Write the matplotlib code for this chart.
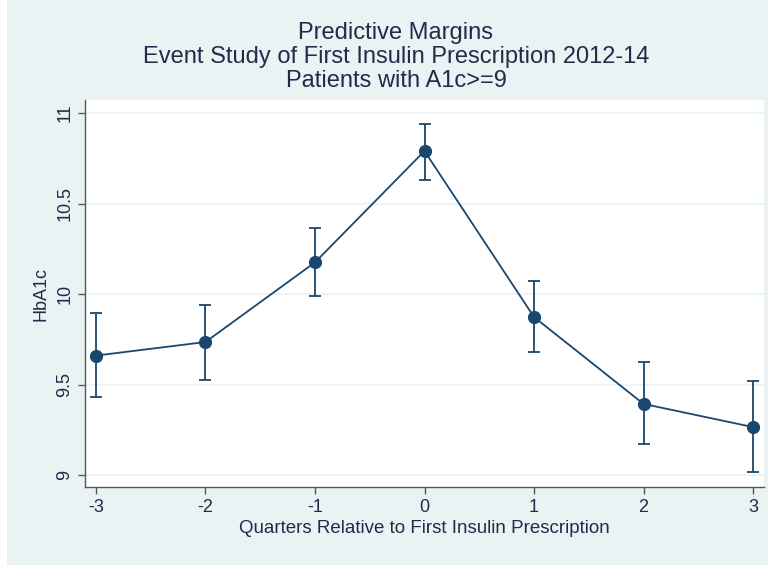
import matplotlib.pyplot as plt
from matplotlib.patches import Rectangle

# data
quarters = [-3, -2, -1, 0, 1, 2, 3]
margin = [9.66, 9.735, 10.175, 10.79, 9.873, 9.393, 9.265]
ci_low = [9.43, 9.525, 9.988, 10.63, 9.678, 9.17, 9.015]
ci_high = [9.893, 9.94, 10.365, 10.94, 10.072, 9.624, 9.519]
yticks = [9, 9.5, 10, 10.5, 11]
ytick_labels = ["9", "9.5", "10", "10.5", "11"]

navy = "#1a476f"
bg = "#eaf2f3"
txt = "#1f2d4a"

plt.rcParams["font.family"] = ["Liberation Sans", "DejaVu Sans"]

fig = plt.figure(figsize=(7.71, 5.65), dpi=100)
fig.patch.set_facecolor("white")
# Stata graph region (leaves a thin white strip on the left)
fig.patches.append(Rectangle((7 / 771, 0), 1 - 10 / 771, 1, transform=fig.transFigure,
                             facecolor=bg, edgecolor="none", zorder=-10))

W, H = 771, 565
left, right, top, bottom = 85, 764, 100, 487
ax = fig.add_axes([left / W, 1 - bottom / H, (right - left) / W, (bottom - top) / H])
ax.set_facecolor("white")

lower = [m - l for m, l in zip(margin, ci_low)]
upper = [h - m for m, h in zip(margin, ci_high)]
ax.errorbar(quarters, margin, yerr=[lower, upper], color=navy, linewidth=1.3,
            elinewidth=1.3, capsize=4, capthick=1.3, marker="o", markersize=8.5,
            zorder=3)

ax.set_xlim(-3.1, 3.1)
ax.set_ylim(8.934, 11.072)
ax.set_xticks(quarters)
ax.set_xticklabels([str(q) for q in quarters])
ax.set_yticks(yticks)
ax.set_yticklabels(ytick_labels, rotation=90, va="center")
ax.grid(axis="y", color=bg, linewidth=1.2)
ax.set_axisbelow(True)

for s in ["top", "right"]:
    ax.spines[s].set_visible(False)
for s in ["left", "bottom"]:
    ax.spines[s].set_color("#555555")
    ax.spines[s].set_linewidth(1.0)
ax.tick_params(colors="#555555", labelcolor=txt, labelsize=13, length=5, width=1)

ax.set_ylabel("HbA1c", fontsize=13, color=txt, labelpad=5)
ax.set_xlabel("Quarters Relative to First Insulin Prescription", fontsize=13.5,
              color=txt, labelpad=3)

cx = 396 / W
fig.text(cx, 1 - 33 / H, "Predictive Margins", ha="center",
         va="center", fontsize=17, color=txt)
fig.text(cx, 1 - 57 / H,
         "Event Study of First Insulin Prescription 2012-14", ha="center",
         va="center", fontsize=17, color=txt)
fig.text(cx, 1 - 81 / H, "Patients with A1c>=9", ha="center",
         va="center", fontsize=17, color=txt)

fig.savefig("out.png", dpi=100, facecolor=fig.get_facecolor())
